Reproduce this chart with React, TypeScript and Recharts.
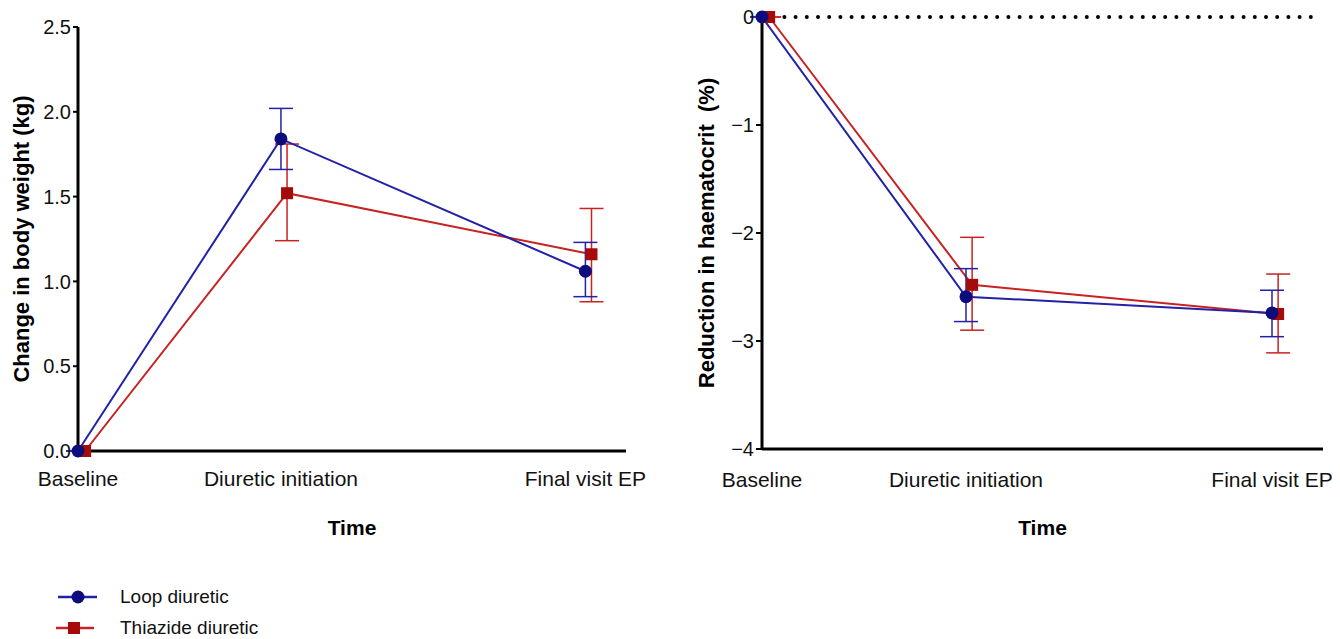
import { ErrorBar, Label, Legend, Line, LineChart, ReferenceLine, XAxis, YAxis } from "recharts";

// time points (numeric so the spacing follows the original)
const timeLabels = ["Baseline", "Diuretic initiation", "Final visit EP"];
const timeTicks = [0, 2, 5];
const loopX = [0, 2, 5];
const thiazideX = [0.07, 2.06, 5.06];

// change in body weight (kg): mean with lower / upper error limits
const weightLoop = [0, 1.84, 1.06];
const weightLoopLow = [0, 1.66, 0.91];
const weightLoopHigh = [0, 2.02, 1.23];
const weightThiazide = [0, 1.52, 1.16];
const weightThiazideLow = [0, 1.24, 0.88];
const weightThiazideHigh = [0, 1.81, 1.43];
const weightTicks = [0, 0.5, 1, 1.5, 2, 2.5];

// reduction in haematocrit (%)
const hctLoop = [0, -2.59, -2.74];
const hctLoopLow = [0, -2.82, -2.96];
const hctLoopHigh = [0, -2.33, -2.53];
const hctThiazide = [0, -2.48, -2.75];
const hctThiazideLow = [0, -2.9, -3.11];
const hctThiazideHigh = [0, -2.04, -2.38];
const hctTicks = [-4, -3, -2, -1, 0];

const LOOP_LINE = "#2222a6";
const LOOP_DOT = "#0c0c7c";
const THZ_LINE = "#c92222";
const THZ_DOT = "#a60a0a";

function buildSeries(xs: number[], mean: number[], low: number[], high: number[]) {
  return xs.map((x, i) => ({
    x,
    y: mean[i],
    err: [mean[i] - low[i], high[i] - mean[i]],
  }));
}

const weightLoopData = buildSeries(loopX, weightLoop, weightLoopLow, weightLoopHigh);
const weightThzData = buildSeries(thiazideX, weightThiazide, weightThiazideLow, weightThiazideHigh);
const hctLoopData = buildSeries(loopX, hctLoop, hctLoopLow, hctLoopHigh);
const hctThzData = buildSeries(thiazideX, hctThiazide, hctThiazideLow, hctThiazideHigh);

const tickFmt = (v: number) => timeLabels[timeTicks.indexOf(v)] ?? "";

const circleDot = (p: any) => (
  <circle key={`c-${p.index}`} cx={p.cx} cy={p.cy} r={6.5} fill={LOOP_DOT} />
);
const squareDot = (p: any) => (
  <rect key={`s-${p.index}`} x={p.cx - 6} y={p.cy - 6} width={12} height={12} fill={THZ_DOT} />
);

const axisLine = { stroke: "#000", strokeWidth: 3 };

// rotated y-axis title, drawn as one line
const verticalTitle = (text: string, dx: number) => (props: any) => {
  const vb = props.viewBox ?? { x: 0, y: 0, height: 0 };
  const x = vb.x + dx;
  const y = vb.y + vb.height / 2;
  return (
    <text
      x={x}
      y={y}
      transform={`rotate(-90, ${x}, ${y})`}
      textAnchor="middle"
      dominantBaseline="central"
      fontWeight={700}
      fontSize={22}
      fill="#000"
      style={{ whiteSpace: "pre" }}
    >
      {text}
    </text>
  );
};

function LegendContent(props: any) {
  const items = props.payload ?? [];
  return (
    <div style={{ fontSize: 19, color: "#111" }}>
      {items.map((entry: any) => {
        const isLoop = entry.type === "circle";
        return (
          <div key={entry.value} style={{ display: "flex", alignItems: "center", height: 31 }}>
            <svg width={64} height={20} style={{ display: "block" }}>
              <line x1={isLoop ? 2 : 0} x2={isLoop ? 41 : 38} y1={10} y2={10} stroke={entry.color} strokeWidth={2.5} />
              {isLoop ? (
                <circle cx={22} cy={10} r={6.5} fill={LOOP_DOT} />
              ) : (
                <rect x={12} y={4} width={12} height={12} fill={THZ_DOT} />
              )}
            </svg>
            <span>{entry.value}</span>
          </div>
        );
      })}
    </div>
  );
}

export default function App() {
  return (
    <div
      style={{
        position: "absolute",
        left: 0,
        top: 0,
        width: 1340,
        height: 639,
        background: "#fff",
        fontFamily: "'Liberation Sans', Arial, sans-serif",
      }}
    >
      <div style={{ position: "absolute", left: 0, top: 0 }}>
        <LineChart width={660} height={639} margin={{ top: 27, right: 34, bottom: 104, left: 0 }}>
          <XAxis
            type="number"
            dataKey="x"
            domain={[0, 5.4]}
            ticks={timeTicks}
            interval={0}
            tickFormatter={tickFmt}
            tickLine={false}
            tickSize={0}
            tickMargin={20}
            height={84}
            axisLine={axisLine}
            tick={{ fill: "#111", fontSize: 21 }}
            label={{ value: "Time", position: "insideBottom", offset: 0, style: { fontWeight: 700, fontSize: 21, fill: "#000" } }}
          />
          <YAxis
            type="number"
            domain={[0, 2.5]}
            ticks={weightTicks}
            tickFormatter={(v: number) => v.toFixed(1)}
            width={78}
            tickSize={5}
            tickMargin={2}
            axisLine={axisLine}
            tickLine={{ stroke: "#000", strokeWidth: 2 }}
            tick={{ fill: "#111", fontSize: 20 }}
          >
            <Label content={verticalTitle("Change in body weight (kg)", 21)} />
          </YAxis>
          <Legend
            layout="vertical"
            align="center"
            verticalAlign="middle"
            content={<LegendContent />}
            wrapperStyle={{ left: 56, top: 581, width: 300 }}
          />
          <Line
            data={weightThzData}
            dataKey="y"
            name="Thiazide diuretic"
            legendType="square"
            stroke={THZ_LINE}
            strokeWidth={2}
            dot={squareDot}
            isAnimationActive={false}
          >
            <ErrorBar dataKey="err" direction="y" width={12} stroke={THZ_LINE} strokeWidth={1.5} />
          </Line>
          <Line
            data={weightLoopData}
            dataKey="y"
            name="Loop diuretic"
            legendType="circle"
            stroke={LOOP_LINE}
            strokeWidth={2}
            dot={circleDot}
            isAnimationActive={false}
          >
            <ErrorBar dataKey="err" direction="y" width={12} stroke={LOOP_LINE} strokeWidth={1.5} />
          </Line>
        </LineChart>
      </div>

      <div style={{ position: "absolute", left: 680, top: 0 }}>
        <LineChart width={660} height={639} margin={{ top: 17, right: 17, bottom: 104, left: 0 }}>
          <XAxis
            type="number"
            dataKey="x"
            domain={[0, 5.5]}
            ticks={timeTicks}
            interval={0}
            tickFormatter={tickFmt}
            tickLine={false}
            tickSize={0}
            tickMargin={23}
            height={86}
            axisLine={axisLine}
            tick={{ fill: "#111", fontSize: 21 }}
            label={{ value: "Time", position: "insideBottom", offset: 0, style: { fontWeight: 700, fontSize: 21, fill: "#000" } }}
          />
          <YAxis
            type="number"
            domain={[-4, 0]}
            ticks={hctTicks}
            tickFormatter={(v: number) => (v < 0 ? `\u2212${Math.abs(v)}` : `${v}`)}
            width={82}
            tickSize={6}
            tickMargin={2}
            axisLine={axisLine}
            tickLine={{ stroke: "#000", strokeWidth: 2 }}
            tick={{ fill: "#111", fontSize: 20 }}
          >
            <Label content={verticalTitle("Reduction in haematocrit  (%)", 26)} />
          </YAxis>
          <ReferenceLine
            segment={[{ x: 0, y: 0 }, { x: 5.4, y: 0 }]}
            stroke="#000"
            strokeWidth={4}
            strokeDasharray="0 11.2"
            strokeLinecap="round"
          />
          <Line
            data={hctThzData}
            dataKey="y"
            name="Thiazide diuretic"
            stroke={THZ_LINE}
            strokeWidth={2}
            dot={squareDot}
            isAnimationActive={false}
          >
            <ErrorBar dataKey="err" direction="y" width={12} stroke={THZ_LINE} strokeWidth={1.5} />
          </Line>
          <Line
            data={hctLoopData}
            dataKey="y"
            name="Loop diuretic"
            stroke={LOOP_LINE}
            strokeWidth={2}
            dot={circleDot}
            isAnimationActive={false}
          >
            <ErrorBar dataKey="err" direction="y" width={12} stroke={LOOP_LINE} strokeWidth={1.5} />
          </Line>
        </LineChart>
      </div>
    </div>
  );
}
